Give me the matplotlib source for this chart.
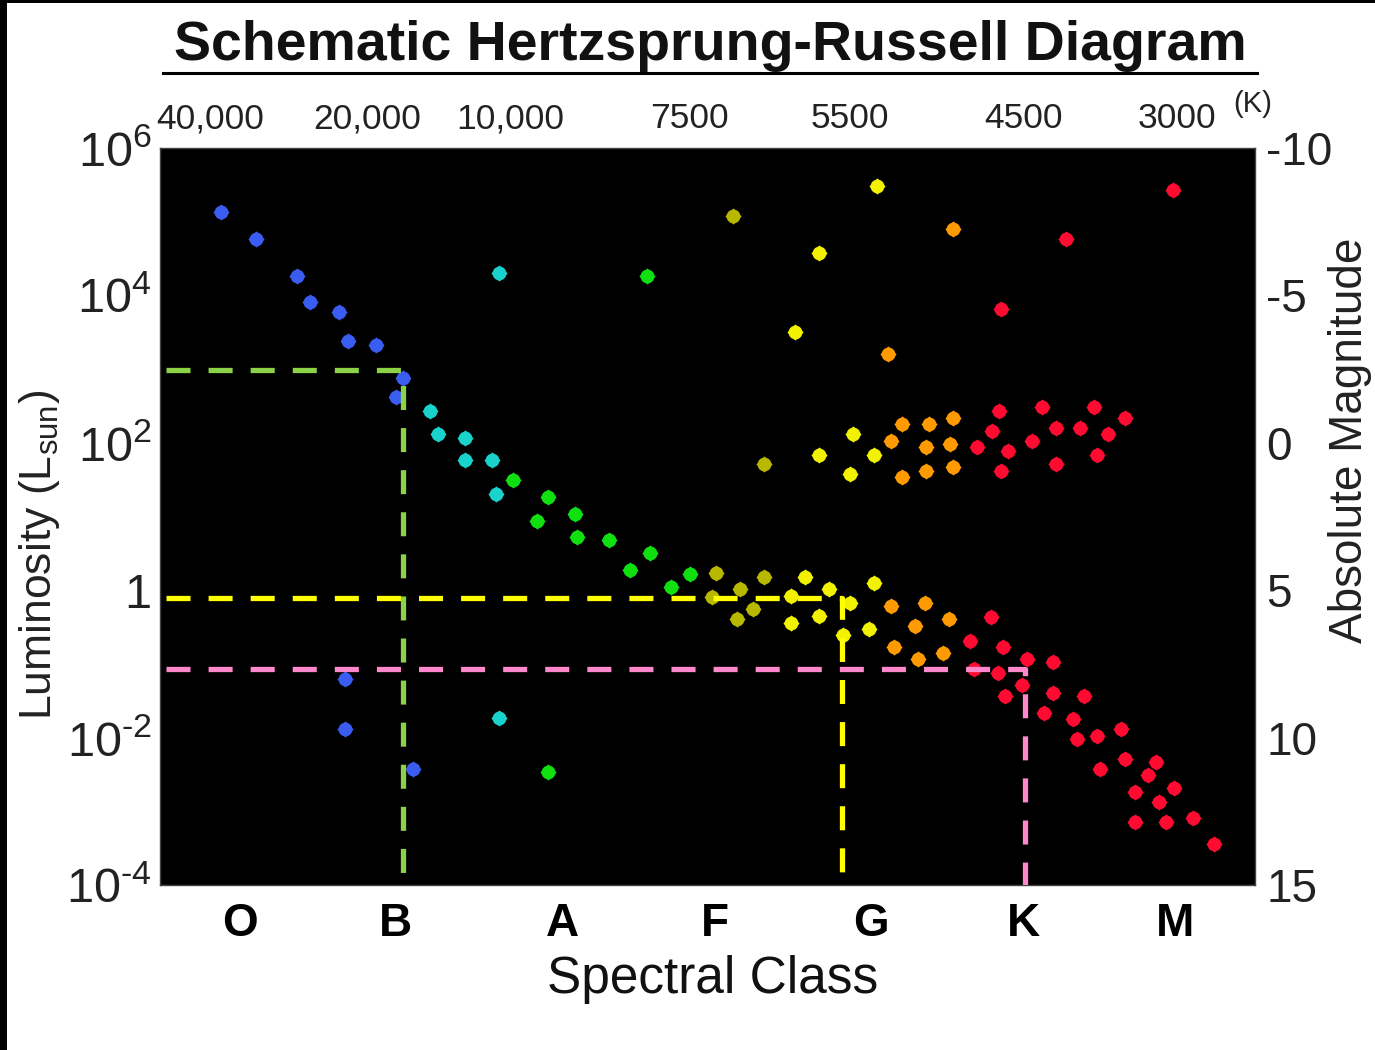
import numpy as np
import matplotlib.pyplot as plt
from matplotlib.lines import Line2D
from matplotlib.patches import Rectangle

plt.rcParams['font.family'] = ['Liberation Sans', 'DejaVu Sans']
plt.rcParams['mathtext.fontset'] = 'custom'
plt.rcParams['mathtext.rm'] = 'Liberation Sans'
plt.rcParams['mathtext.it'] = 'Liberation Sans'
plt.rcParams['lines.scale_dashes'] = False

# x = spectral type code (O0 = 0, B0 = 10, ... M0 = 60), y = log10(L / Lsun)
blue_x = [-1.24, 1.01, 3.64, 4.51, 6.37, 6.95, 8.71, 10.48, 10.01, 6.72, 6.72, 11.12]
blue_logl = [5.13, 4.77, 4.27, 3.91, 3.78, 3.38, 3.33, 2.88, 2.62, -1.21, -1.88, -2.42]

cyan_x = [16.64, 12.20, 12.73, 14.44, 14.44, 16.19, 16.41, 16.64]
cyan_logl = [4.31, 2.43, 2.12, 2.07, 1.76, 1.76, 1.31, -1.74]

green_x = [26.12, 17.54, 19.75, 19.06, 21.50, 21.61, 23.68, 26.34, 25.03, 27.66, 28.88, 19.75]
green_logl = [4.27, 1.49, 1.26, 0.94, 1.04, 0.72, 0.68, 0.50, 0.28, 0.05, 0.22, -2.47]

olive_x = [31.62, 33.63, 30.55, 30.30, 32.09, 33.63, 32.95, 31.88]
olive_logl = [5.08, 1.71, 0.23, -0.09, 0.01, 0.18, -0.26, -0.39]

yellow_x = [40.91, 37.16, 35.62, 37.16, 39.36, 40.69, 39.15,
            36.28, 35.35, 37.80, 35.39, 37.16, 39.15, 40.69, 38.72, 40.35]
yellow_logl = [5.48, 4.58, 3.51, 1.84, 2.12, 1.84, 1.58,
               0.18, -0.08, 0.01, -0.45, -0.35, -0.17, 0.10, -0.61, -0.53]

orange_x = [45.74, 41.57, 41.78, 42.47, 44.20, 45.76, 44.01, 45.55, 42.47, 44.01, 45.76,
            41.78, 43.99, 43.32, 45.53, 42.00, 43.54, 45.10]
orange_logl = [4.90, 3.20, 2.03, 2.26, 2.25, 2.34, 1.94, 1.98, 1.53, 1.62, 1.67,
               -0.21, -0.17, -0.49, -0.39, -0.77, -0.93, -0.85]

red_x = [59.88, 53.04, 48.83, 47.29, 48.72, 51.50, 54.79, 56.80, 48.29, 52.36, 53.92,
         55.69, 50.82, 49.28, 55.01, 48.84, 52.36,
         46.85, 48.20, 47.11, 48.99, 50.49, 52.16, 48.63, 50.17, 49.10, 52.16, 54.15,
         51.62, 53.47, 53.72, 55.01, 56.55, 56.80, 58.77, 55.22, 58.30, 59.97, 57.45,
         58.99, 57.45, 59.44, 61.19, 62.54]
red_logl = [5.43, 4.77, 3.82, 1.94, 2.43, 2.48, 2.48, 2.34, 2.16, 2.20, 2.20,
            2.12, 2.02, 1.89, 1.84, 1.62, 1.71,
            -0.69, -0.36, -1.07, -0.77, -0.93, -0.98, -1.12, -1.28, -1.43, -1.39, -1.44,
            -1.66, -1.75, -2.02, -1.98, -1.89, -2.29, -2.33, -2.42, -2.51, -2.68, -2.74,
            -2.87, -3.15, -3.15, -3.09, -3.45]

# guide lines: (spectral code of corner, log L of corner)
guide_x = [10.48, 38.62, 50.37]
guide_logl = [2.99, -0.11, -1.07]
guide_start = -4.75

class_pos = [0, 10, 20.7, 30.5, 40.5, 50.3, 60]
class_labels = ['O', 'B', 'A', 'F', 'G', 'K', 'M']
temp_pos = [-1.93, 8.15, 17.33, 28.88, 39.15, 50.26, 60.14]
temp_labels = ['40,000', '20,000', '10,000', '7500', '5500', '4500', '3000']
lum_ticks = [1e-4, 1e-2, 1, 1e2, 1e4, 1e6]
lum_labels = ['$\\mathregular{10^{\u2010 4}}$', '$\\mathregular{10^{\u2010 2}}$', '1',
              r'$\mathregular{10^{2}}$', r'$\mathregular{10^{4}}$', r'$\mathregular{10^{6}}$']
mag_ticks = [-10, -5, 0, 5, 10, 15]
mag_labels = ['-10', '-5', '0', '5', '10', '15']

groups = [
    (blue_x, blue_logl, '#3a5cf0'),
    (cyan_x, cyan_logl, '#1ad2cc'),
    (green_x, green_logl, '#10e010'),
    (olive_x, olive_logl, '#b8b800'),
    (yellow_x, yellow_logl, '#f2f200'),
    (orange_x, orange_logl, '#ff9a00'),
    (red_x, red_logl, '#ff0a30'),
]
guide_colors = ['#8cd246', '#ffff00', '#ff88cc']

fig = plt.figure(figsize=(13.75, 10.5), dpi=100)
ax = fig.add_axes([160 / 1375, 1 - 885 / 1050, 1095 / 1375, 737 / 1050])
ax.set_facecolor('black')
ax.set_yscale('log')
ax.set_xlim(-5.13, 65.15)
ax.set_ylim(1e-4, 1e6)

for xs, ls, c in groups:
    lum = 10 ** np.array(ls)
    ax.scatter(xs, lum, marker='o', s=100, color=c, linewidths=0, zorder=3)
    ax.scatter(xs, lum, marker='D', s=68, color=c, linewidths=0, zorder=3)

for gx, gl, c in zip(guide_x, guide_logl, guide_colors):
    ax.plot([guide_start, gx, gx], [10 ** gl, 10 ** gl, 1e-4], color=c, lw=3.8,
            dashes=(17.3, 13), zorder=4, solid_capstyle='butt', dash_capstyle='butt')

ax.set_xticks(class_pos)
ax.set_xticklabels(class_labels, fontsize=33, fontweight='bold')
ax.set_yticks(lum_ticks)
ax.set_yticklabels(lum_labels, fontsize=35, color='#222222')
ax.yaxis.set_minor_locator(plt.NullLocator())
ax.tick_params(axis='x', length=0, pad=12)
ax.tick_params(axis='y', length=0, pad=6)
for sp in ax.spines.values():
    sp.set_color('#444444')
    sp.set_linewidth(1)

ax_top = ax.twiny()
ax_top.set_xlim(ax.get_xlim())
ax_top.set_xticks(temp_pos)
ax_top.set_xticklabels(temp_labels, fontsize=25.5, color='#222222')
ax_top.tick_params(axis='x', length=0, pad=9)

ax_mag = ax.twinx()
ax_mag.set_ylim(15, -10)
ax_mag.set_yticks(mag_ticks)
ax_mag.set_yticklabels(mag_labels, fontsize=33, color='#222222')
ax_mag.tick_params(axis='y', length=0, pad=8)
for a in (ax_top, ax_mag):
    for sp in a.spines.values():
        sp.set_visible(False)

fig.text(1253 / 1375, 1 - 104 / 1050, '(K)', fontsize=21, ha='center', va='center',
         color='#222222')
fig.text(713 / 1375, 1 - 980 / 1050, 'Spectral Class', fontsize=37, ha='center',
         va='center', color='#111111')
fig.text(40 / 1375, 1 - 555 / 1050, r'Luminosity (L$_{\mathregular{sun}}$)', fontsize=32,
         rotation=90, ha='center', va='center', color='#222222')
fig.text(1350 / 1375, 1 - 440 / 1050, 'Absolute Magnitude', fontsize=33, rotation=90,
         ha='center', va='center', color='#222222')

fig.text(710 / 1375, 1 - 46 / 1050, 'Schematic Hertzsprung-Russell Diagram', fontsize=40,
         fontweight='bold', ha='center', va='center', color='#111111')
fig.add_artist(Line2D([163 / 1375, 1257 / 1375], [1 - 73 / 1050] * 2,
                      transform=fig.transFigure, color='black', lw=2.2))

# dark frame left by the screen grab
fig.add_artist(Rectangle((0, 0), 7 / 1375, 1, transform=fig.transFigure,
                         color='black', lw=0))
fig.add_artist(Rectangle((0, 1 - 3 / 1050), 1, 3 / 1050, transform=fig.transFigure,
                         color='black', lw=0))

fig.savefig('out.png', dpi=100, facecolor='white')
